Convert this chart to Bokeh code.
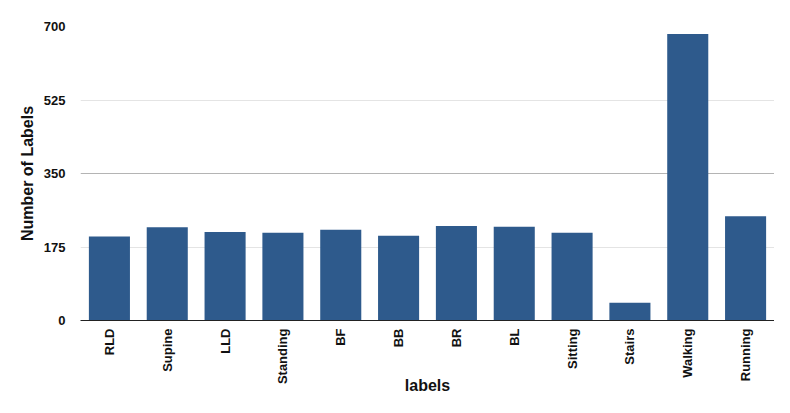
import math
from bokeh.plotting import figure
from bokeh.models import FactorRange, Range1d, FixedTicker
from bokeh.embed import file_html
from bokeh.resources import INLINE

categories = ["RLD", "Supine", "LLD", "Standing", "BF", "BB", "BR", "BL",
              "Sitting", "Stairs", "Walking", "Running"]
counts = [200, 222, 211, 209, 216, 202, 225, 223, 209, 42, 682, 248]
y_ticks = [0, 175, 350, 525, 700]

FONT = "Liberation Sans"

p = figure(width=774, height=397, output_backend="svg", toolbar_location=None,
           x_range=FactorRange(factors=categories, range_padding=0),
           y_range=Range1d(0, 700),
           min_border_left=80, min_border_right=0, min_border_top=26, min_border_bottom=0)
p.outline_line_color = None

p.vbar(x=categories, top=counts, width=0.71, color="#2E5A8C", line_color=None)

# y axis
p.yaxis.ticker = FixedTicker(ticks=y_ticks)
p.yaxis.axis_line_color = None
p.yaxis.major_tick_line_color = None
p.yaxis.minor_tick_line_color = None
p.yaxis.major_label_standoff = 9
p.yaxis.major_label_text_font = FONT
p.yaxis.major_label_text_font_style = "bold"
p.yaxis.major_label_text_font_size = "13px"
p.yaxis.major_label_text_color = "#111111"
p.yaxis.axis_label = "Number of Labels"
p.yaxis.axis_label_text_font = FONT
p.yaxis.axis_label_text_font_style = "bold"
p.yaxis.axis_label_text_font_size = "16px"
p.yaxis.axis_label_text_color = "#111111"
p.yaxis.axis_label_standoff = 5

# x axis
p.xaxis.axis_line_color = "#222222"
p.xaxis.major_tick_line_color = None
p.xaxis.minor_tick_line_color = None
p.xaxis.major_label_orientation = math.pi / 2
p.xaxis.major_label_standoff = 2
p.xaxis.major_label_text_font = FONT
p.xaxis.major_label_text_font_style = "bold"
p.xaxis.major_label_text_font_size = "13px"
p.xaxis.major_label_text_color = "#111111"
p.xaxis.axis_label = "labels"
p.xaxis.axis_label_text_font = FONT
p.xaxis.axis_label_text_font_style = "bold"
p.xaxis.axis_label_text_font_size = "16px"
p.xaxis.axis_label_text_color = "#111111"
p.xaxis.axis_label_standoff = -10

# grid
p.xgrid.grid_line_color = None
p.ygrid.ticker = FixedTicker(ticks=[350, 700], minor_ticks=[175, 525])
p.ygrid.grid_line_color = "#b4b4b4"
p.ygrid.grid_line_width = 1
p.ygrid.minor_grid_line_color = "#e4e4e4"
p.ygrid.minor_grid_line_width = 1

open("out.html", "w").write(file_html(p, INLINE))
